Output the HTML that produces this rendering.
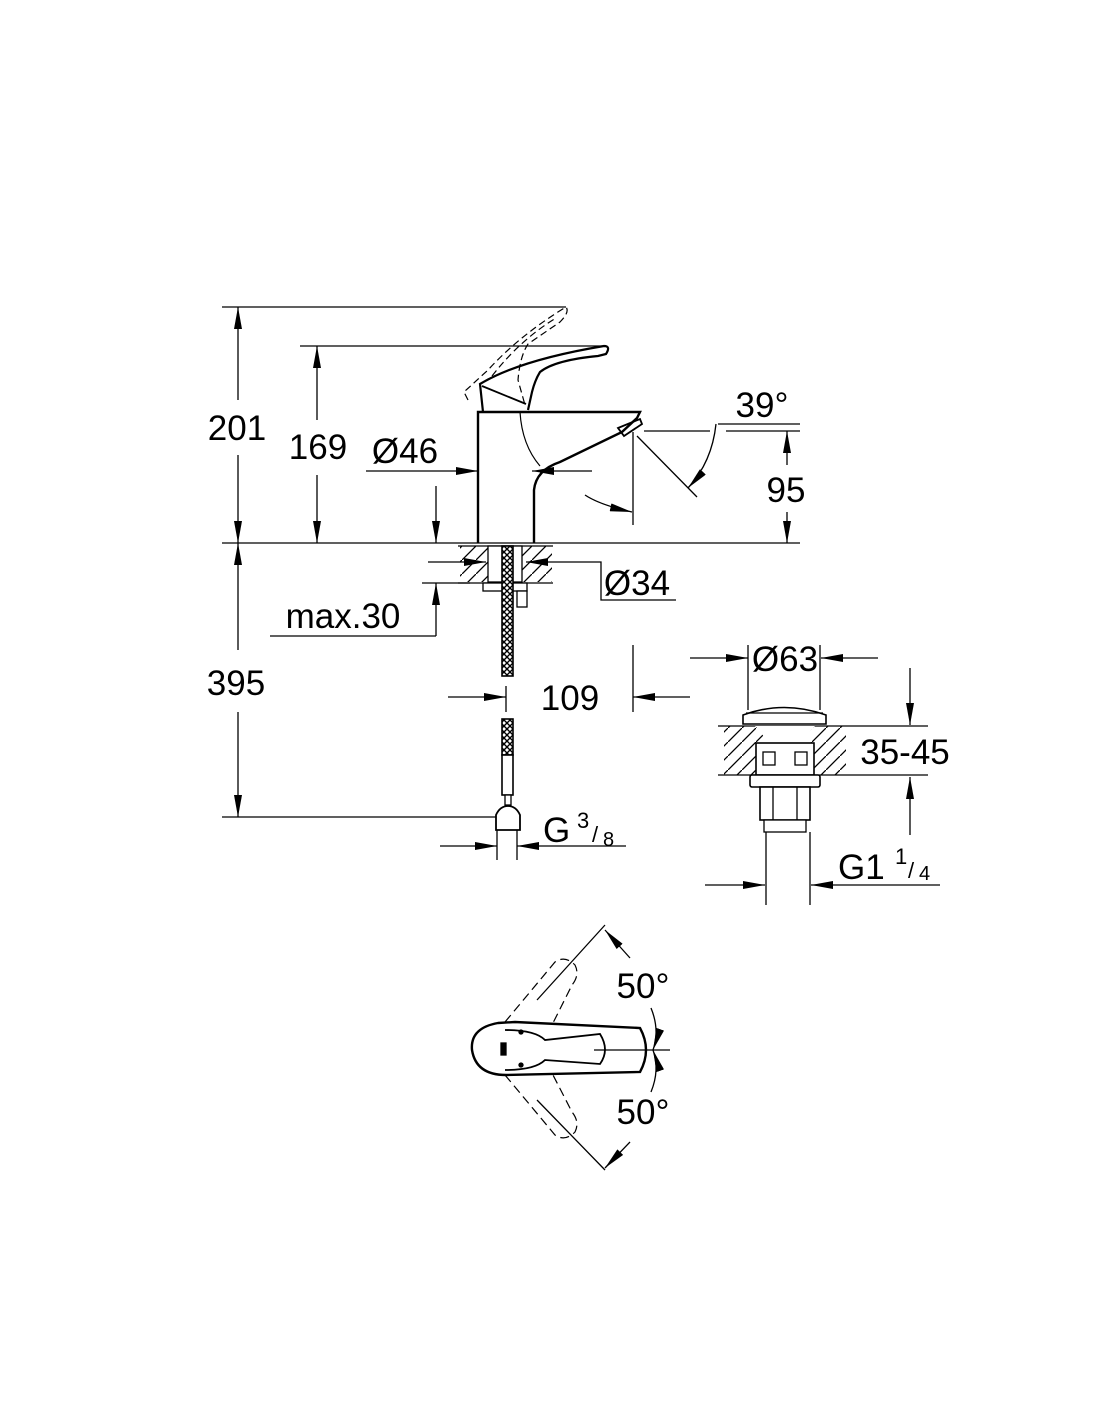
<!DOCTYPE html>
<html><head><meta charset="utf-8"><style>
html,body{margin:0;padding:0;background:#fff}
svg{display:block}
text{font-family:"Liberation Sans",Arial,sans-serif;fill:#000}
</style></head><body>
<svg width="1100" height="1422" viewBox="0 0 1100 1422" xmlns="http://www.w3.org/2000/svg">
<defs>
<marker id="a" viewBox="0 0 22 8" refX="22" refY="4" markerWidth="22" markerHeight="8" markerUnits="userSpaceOnUse" orient="auto"><path d="M0,0 L22,4 L0,8 Z" fill="#000"/></marker>
<pattern id="hx" width="14" height="14" patternUnits="userSpaceOnUse"><path d="M-3,17 L17,-3" stroke="#000" stroke-width="1.3"/></pattern>
<pattern id="br" width="6" height="6" patternUnits="userSpaceOnUse"><rect width="6" height="6" fill="#fff"/><path d="M0,0 L6,6 M6,0 L0,6" stroke="#000" stroke-width="1.4"/></pattern>
</defs>
<g stroke="#000" stroke-width="1.3" fill="none">
<line x1="222" y1="543" x2="800" y2="543"/>
<line x1="222" y1="307" x2="566" y2="307"/>
<line x1="300" y1="346" x2="606" y2="346"/>
<line x1="222" y1="817" x2="500" y2="817"/>
<line x1="238" y1="400" x2="238" y2="307" marker-end="url(#a)"/>
<line x1="238" y1="455" x2="238" y2="543" marker-end="url(#a)"/>
<line x1="317" y1="420" x2="317" y2="346" marker-end="url(#a)"/>
<line x1="317" y1="475" x2="317" y2="543" marker-end="url(#a)"/>
<line x1="238" y1="650" x2="238" y2="543" marker-end="url(#a)"/>
<line x1="238" y1="712" x2="238" y2="817" marker-end="url(#a)"/>
<line x1="366" y1="471" x2="478" y2="471" marker-end="url(#a)"/>
<line x1="592" y1="471" x2="532" y2="471" marker-end="url(#a)"/>
<line x1="436" y1="486" x2="436" y2="543" marker-end="url(#a)"/>
<line x1="436" y1="636" x2="436" y2="583" marker-end="url(#a)"/>
<line x1="270" y1="636" x2="436" y2="636"/>
<line x1="422" y1="583" x2="470" y2="583"/>
<line x1="428" y1="562" x2="486" y2="562" marker-end="url(#a)"/>
<line x1="566" y1="562" x2="526" y2="562" marker-end="url(#a)"/>
<polyline points="566,562 601,562 601,600 676,600"/>
<path d="M478,543 L478,412 L640,412 L637,418 L622,432 L560,462 Q536,470 534,490 L534,543" stroke-width="2.4"/>
<path d="M618,428 L640,419 L642,424 L624,436 Z" stroke-width="1.8"/>
<path d="M520,412 Q522,445 540,466" stroke-width="1.2"/>
<path d="M483,412 L480,384 Q520,360 604,346 Q611,346 606,354 L598,356 Q555,360 540,372 Q535,380 532,392 L528,410" stroke-width="2.2"/>
<path d="M482,386 L526,404" stroke-width="1.8"/>
<g stroke-dasharray="7,4" stroke-width="1.2">
<path d="M468,400 L464,392 L488,370 Q520,335 566,307 Q570,312 560,322 L528,344 Q520,356 518,380 L525,405"/>
<path d="M492,376 Q520,340 556,318"/>
</g>
<line x1="644" y1="431" x2="710" y2="431"/>
<line x1="726" y1="431" x2="800" y2="431"/>
<line x1="718" y1="424" x2="800" y2="424"/>
<line x1="633" y1="432" x2="633" y2="525"/>
<line x1="637" y1="436" x2="697" y2="497"/>
<path d="M716,424 Q712,462 688,488" marker-end="url(#a)"/>
<path d="M585,495 Q600,505 632,512" marker-end="url(#a)"/>
<line x1="787" y1="465" x2="787" y2="431" marker-end="url(#a)"/>
<line x1="787" y1="512" x2="787" y2="543" marker-end="url(#a)"/>
<rect x="460" y="546" width="92" height="36" fill="url(#hx)" stroke="none"/>
<line x1="458" y1="546" x2="553" y2="546"/>
<line x1="458" y1="583" x2="553" y2="583"/>
<rect x="488" y="546" width="34" height="36" fill="#fff"/>
<rect x="483" y="583" width="44" height="8" fill="#fff"/>
<rect x="517" y="591" width="10" height="16" fill="#fff"/>
<rect x="502" y="546" width="11" height="130" fill="url(#br)" stroke-width="1.6"/>
<rect x="502" y="719" width="11" height="36" fill="url(#br)" stroke-width="1.6"/>
<rect x="502" y="755" width="11" height="40" fill="#fff" stroke-width="1.6"/>
<rect x="505" y="795" width="6" height="10" fill="#fff"/>
<path d="M496,830 L496,815 Q500,806 508,806 Q516,806 520,815 L520,830 Z" fill="#fff" stroke-width="1.8"/>
<line x1="497" y1="830" x2="497" y2="860"/>
<line x1="517" y1="830" x2="517" y2="860"/>
<line x1="448" y1="697" x2="506" y2="697" marker-end="url(#a)"/>
<line x1="506" y1="686" x2="506" y2="712"/>
<line x1="690" y1="697" x2="633" y2="697" marker-end="url(#a)"/>
<line x1="633" y1="645" x2="633" y2="712"/>
<line x1="440" y1="846" x2="497" y2="846" marker-end="url(#a)"/>
<line x1="626" y1="846" x2="517" y2="846" marker-end="url(#a)"/>
<line x1="748" y1="645" x2="748" y2="710"/>
<line x1="820" y1="645" x2="820" y2="710"/>
<line x1="690" y1="658" x2="748" y2="658" marker-end="url(#a)"/>
<line x1="878" y1="658" x2="821" y2="658" marker-end="url(#a)"/>
<rect x="724" y="726" width="122" height="49" fill="url(#hx)" stroke="none"/>
<line x1="718" y1="726" x2="928" y2="726"/>
<line x1="718" y1="775" x2="928" y2="775"/>
<path d="M755,726 Q768,738 768,752 L768,775 L802,775 L802,752 Q802,738 815,726 Z" fill="#fff" stroke="none"/>
<path d="M743,724 L743,715 Q784,700 826,715 L826,724 Z" fill="#fff" stroke-width="1.6"/>
<line x1="746" y1="713" x2="823" y2="713"/>
<rect x="756" y="743" width="58" height="32" fill="#fff" stroke-width="1.6"/>
<rect x="763" y="752" width="12" height="13"/>
<rect x="795" y="752" width="12" height="13"/>
<rect x="750" y="775" width="70" height="12" rx="2" fill="#fff" stroke-width="1.6"/>
<rect x="760" y="787" width="50" height="33" fill="#fff" stroke-width="1.6"/>
<line x1="773" y1="787" x2="773" y2="820"/><line x1="797" y1="787" x2="797" y2="820"/>
<rect x="764" y="820" width="42" height="12" fill="#fff"/>
<line x1="766" y1="832" x2="766" y2="905"/>
<line x1="810" y1="832" x2="810" y2="905"/>
<line x1="910" y1="668" x2="910" y2="725" marker-end="url(#a)"/>
<line x1="910" y1="835" x2="910" y2="777" marker-end="url(#a)"/>
<line x1="705" y1="885" x2="765" y2="885" marker-end="url(#a)"/>
<line x1="940" y1="885" x2="811" y2="885" marker-end="url(#a)"/>
<path d="M498,1023 Q470,1028 472,1050 Q476,1075 506,1075 L640,1072 Q652,1050 640,1028 L515,1022 Z" stroke-width="2.4"/>
<path d="M505,1030 Q535,1030 545,1040 L600,1034 Q610,1050 600,1064 L545,1060 Q535,1070 505,1070" stroke-width="1.8"/>
<rect x="501" y="1043" width="5" height="12" fill="#000"/>
<circle cx="521" cy="1032" r="2" fill="#000"/><circle cx="521" cy="1065" r="2" fill="#000"/>
<line x1="594" y1="1050" x2="670" y2="1050"/>
<line x1="537" y1="1000" x2="605" y2="925"/>
<line x1="537" y1="1100" x2="605" y2="1170"/>
<g stroke-dasharray="9,5" stroke-width="1.2">
<path d="M505,1022 L555,962 Q565,955 575,965 Q580,975 572,985 L553,1023"/>
<path d="M505,1075 L555,1135 Q565,1142 575,1132 Q580,1122 572,1112 L553,1075"/>
</g>
<line x1="630" y1="958" x2="605" y2="930" marker-end="url(#a)"/>
<line x1="630" y1="1142" x2="605" y2="1168" marker-end="url(#a)"/>
<path d="M651,1008 Q660,1030 653,1050" marker-end="url(#a)"/>
<path d="M651,1092 Q660,1070 653,1050" marker-end="url(#a)"/>
</g>
<g font-size="35">
<text x="237" y="440" text-anchor="middle">201</text>
<text x="318" y="459" text-anchor="middle">169</text>
<text x="405" y="463" text-anchor="middle">Ø46</text>
<text x="762" y="417" text-anchor="middle">39°</text>
<text x="786" y="502" text-anchor="middle">95</text>
<text x="637" y="595" text-anchor="middle">Ø34</text>
<text x="343" y="628" text-anchor="middle">max.30</text>
<text x="236" y="695" text-anchor="middle">395</text>
<text x="570" y="710" text-anchor="middle">109</text>
<text x="785" y="671" text-anchor="middle">Ø63</text>
<text x="905" y="764" text-anchor="middle">35-45</text>
<text x="543" y="842">G</text>
<text x="838" y="879">G1</text>
<text x="643" y="998" text-anchor="middle">50°</text>
<text x="643" y="1124" text-anchor="middle">50°</text>
</g>
<g font-size="22">
<text x="577" y="828">3</text><text x="592" y="842">/</text><text x="603" y="846" font-size="20">8</text>
<text x="895" y="864">1</text><text x="908" y="878">/</text><text x="919" y="880" font-size="20">4</text>
</g>
</svg>
</body></html>
